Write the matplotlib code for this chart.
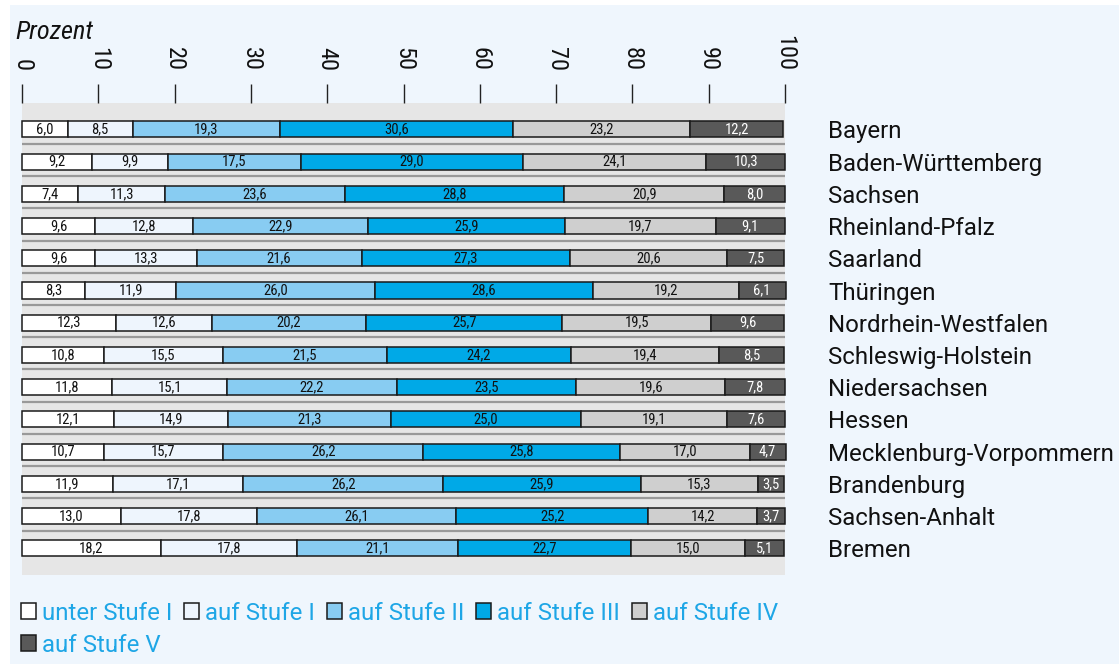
import matplotlib
matplotlib.use('Agg')
import matplotlib.pyplot as plt
from matplotlib.patches import Rectangle
import numpy as np

# Daten
laender = ['Bayern', 'Baden-Württemberg', 'Sachsen', 'Rheinland-Pfalz', 'Saarland',
           'Thüringen', 'Nordrhein-Westfalen', 'Schleswig-Holstein', 'Niedersachsen',
           'Hessen', 'Mecklenburg-Vorpommern', 'Brandenburg', 'Sachsen-Anhalt', 'Bremen']
stufen = ['unter Stufe I', 'auf Stufe I', 'auf Stufe II', 'auf Stufe III',
          'auf Stufe IV', 'auf Stufe V']
unter_stufe_1 = [6.0, 9.2, 7.4, 9.6, 9.6, 8.3, 12.3, 10.8, 11.8, 12.1, 10.7, 11.9, 13.0, 18.2]
stufe_1 = [8.5, 9.9, 11.3, 12.8, 13.3, 11.9, 12.6, 15.5, 15.1, 14.9, 15.7, 17.1, 17.8, 17.8]
stufe_2 = [19.3, 17.5, 23.6, 22.9, 21.6, 26.0, 20.2, 21.5, 22.2, 21.3, 26.2, 26.2, 26.1, 21.1]
stufe_3 = [30.6, 29.0, 28.8, 25.9, 27.3, 28.6, 25.7, 24.2, 23.5, 25.0, 25.8, 25.9, 25.2, 22.7]
stufe_4 = [23.2, 24.1, 20.9, 19.7, 20.6, 19.2, 19.5, 19.4, 19.6, 19.1, 17.0, 15.3, 14.2, 15.0]
stufe_5 = [12.2, 10.3, 8.0, 9.1, 7.5, 6.1, 9.6, 8.5, 7.8, 7.6, 4.7, 3.5, 3.7, 5.1]
ticks = list(range(0, 101, 10))

serien = [unter_stufe_1, stufe_1, stufe_2, stufe_3, stufe_4, stufe_5]
farben = ['#ffffff', '#eef5fd', '#88ccf2', '#00a9e7', '#cfcfcf', '#595959']
textfarben = ['#111111'] * 5 + ['#ffffff']

W, H = 1119, 664
fig = plt.figure(figsize=(W / 100, H / 100), dpi=100, facecolor='white')
# hellblauer Hintergrund
fig.patches.append(Rectangle((10 / W, 0), 1, 1 - 5 / H, transform=fig.transFigure,
                             facecolor='#eff6fd', edgecolor='none', zorder=-10))

ax = fig.add_axes([22 / W, (H - 575) / H, (785 - 22) / W, (575 - 103) / H])
ax.set_facecolor('#e6e6e6')

y = np.arange(len(laender))
links = np.zeros(len(laender))
bars = []
for werte, farbe, tf, name in zip(serien, farben, textfarben, stufen):
    b = ax.barh(y, werte, left=links, height=0.5, color=farbe, edgecolor='#1a1a1a',
                linewidth=1.1, label=name, clip_on=False, zorder=3)
    bars.append(b)
    ax.bar_label(b, labels=[f'{v:.1f}'.replace('.', ',') for v in werte],
                 label_type='center', color=tf, fontsize=10.5,
                 family='Roboto Condensed', zorder=4)
    links += np.array(werte)

# Trennlinien zwischen den Zeilen
for i in range(len(laender) - 1):
    ax.axhline(i + 0.45, color='#999999', linewidth=1.6, zorder=2)

ax.set_xlim(0, 100)
ax.set_ylim(len(laender) - 1 + 0.83, -0.82)

for s in ax.spines.values():
    s.set_visible(False)

ax.xaxis.tick_top()
ax.set_xticks(ticks)
ax.set_xticklabels([str(t) for t in ticks], rotation=270, va='bottom', ha='center',
                   family='Roboto Condensed', fontsize=17.5, color='#111111')
ax.tick_params(axis='x', length=14, width=1, color='#222222', pad=9, direction='out')

ax.yaxis.tick_right()
ax.set_yticks(y)
ax.set_yticklabels(laender, family='Roboto', fontsize=17.3, color='#111111')
ax.tick_params(axis='y', length=0, pad=31)

fig.text(15 / W, 1 - 32 / H, 'Prozent', fontsize=19, style='italic',
         family='Roboto Condensed', va='center', ha='left', color='#111111')

leg_opts = dict(frameon=False, labelcolor='#1ea6e6', handlelength=0.62,
                handleheight=0.66, handletextpad=0.25, columnspacing=0.5,
                borderpad=0, borderaxespad=0, prop={'family': 'Roboto', 'size': 17.3})
leg1 = fig.legend(handles=[b.patches[0] for b in bars[:5]], labels=stufen[:5], ncol=5,
                  loc='center left', bbox_to_anchor=(21 / W, 1 - 613 / H), **leg_opts)
leg2 = fig.legend(handles=[bars[5].patches[0]], labels=stufen[5:], ncol=1,
                  loc='center left', bbox_to_anchor=(21 / W, 1 - 645 / H), **leg_opts)

fig.savefig('out.png', dpi=100, facecolor=fig.get_facecolor())
